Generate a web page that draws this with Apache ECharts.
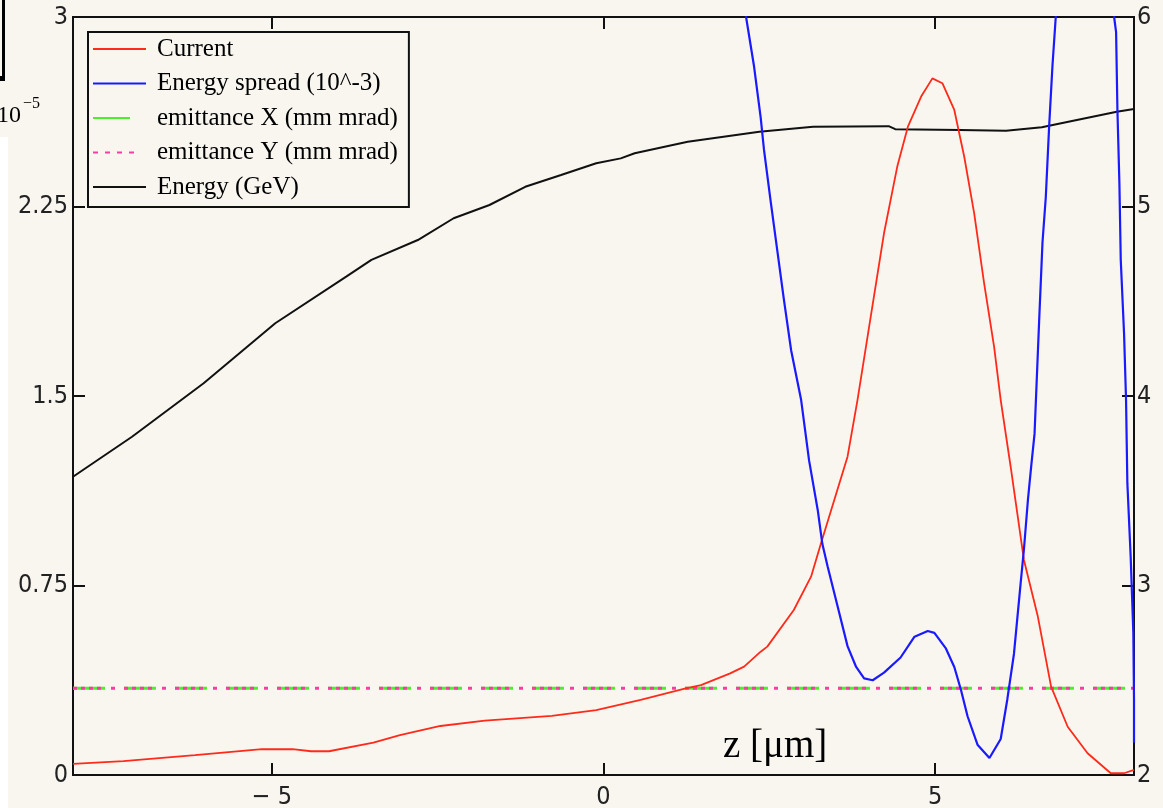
<!DOCTYPE html>
<html><head><meta charset="utf-8">
<script src="https://cdn.jsdelivr.net/npm/echarts@6/dist/echarts.min.js"></script>
<style>html,body{margin:0;padding:0;background:#f9f6f0;} #c{width:1163px;height:808px;}</style>
</head><body><div id="c"></div>
<script>
// ---- data (z in micrometres) ----
const xTicks = [-5, 0, 5];
const leftTicks = [0, 0.75, 1.5, 2.25, 3];
const rightTicks = [2, 3, 4, 5, 6];

const currentZ = [-8.0, -7.24, -6.16, -5.15, -4.69, -4.41, -4.14, -3.47, -3.07, -2.46,
  -1.79, -0.78, -0.11, 0.56, 1.24, 1.47, 1.91, 2.12, 2.37, 2.47,
  2.87, 3.13, 3.28, 3.48, 3.68, 3.83, 4.03, 4.23, 4.43, 4.59,
  4.79, 4.96, 5.11, 5.29, 5.44, 5.59, 5.74, 5.89, 5.99, 6.14,
  6.34, 6.55, 6.75, 7.00, 7.30, 7.65, 7.85, 8.0];
const currentVal = [0.044, 0.055, 0.079, 0.102, 0.102, 0.094, 0.094, 0.128, 0.158, 0.194,
  0.215, 0.234, 0.257, 0.297, 0.343, 0.356, 0.402, 0.429, 0.488, 0.508,
  0.653, 0.785, 0.917, 1.088, 1.260, 1.484, 1.814, 2.144, 2.408, 2.566,
  2.685, 2.757, 2.738, 2.632, 2.447, 2.223, 1.946, 1.695, 1.484, 1.220,
  0.851, 0.627, 0.350, 0.191, 0.086, 0.007, 0.007, 0.020];

const spreadZ = [1.99, 2.15, 2.27, 2.37, 2.42, 2.52, 2.62, 2.72, 2.83, 2.98,
  3.10, 3.23, 3.30, 3.38, 3.53, 3.68, 3.81, 3.93, 4.06, 4.23,
  4.48, 4.69, 4.89, 4.99, 5.16, 5.29, 5.39, 5.49, 5.64, 5.82,
  5.99, 6.09, 6.19, 6.29, 6.34, 6.40, 6.45, 6.50, 6.57, 6.62,
  6.67, 6.72, 6.77, 6.82, 6.90, 7.27, 7.62, 7.70, 7.73, 7.75,
  7.78, 7.80, 7.85, 7.88, 7.90, 7.95, 7.99, 8.0, 8.0];
const spreadVal = [6.32, 6.00, 5.74, 5.47, 5.30, 5.03, 4.77, 4.51, 4.24, 3.98,
  3.66, 3.40, 3.22, 3.10, 2.89, 2.68, 2.57, 2.51, 2.50, 2.54,
  2.62, 2.73, 2.76, 2.75, 2.67, 2.57, 2.45, 2.31, 2.16, 2.09,
  2.19, 2.40, 2.64, 3.01, 3.19, 3.45, 3.63, 3.80, 4.40, 4.81,
  5.05, 5.42, 5.74, 6.00, 6.30, 7.20, 6.30, 6.00, 5.92, 5.51,
  5.12, 4.72, 4.33, 3.98, 3.54, 3.15, 2.75, 2.40, 2.17];

const emitZ = [-8, 8];
const emitXVal = [0.343, 0.343];
const emitYVal = [0.343, 0.343];

const energyZ = [-8.0, -7.11, -6.03, -4.95, -3.88, -3.50, -2.80, -2.26, -1.72, -1.18,
  -0.64, -0.11, 0.26, 0.47, 1.27, 2.35, 3.16, 4.30, 4.40, 5.37,
  6.07, 6.61, 7.74, 8.0];
const energyVal = [3.574, 3.785, 4.067, 4.384, 4.630, 4.718, 4.823, 4.938, 5.008, 5.104,
  5.166, 5.228, 5.254, 5.281, 5.342, 5.395, 5.421, 5.424, 5.408, 5.404,
  5.400, 5.418, 5.500, 5.515];

const seriesNames = ['Current', 'Energy spread (10^-3)', 'emittance X (mm mrad)', 'emittance Y (mm mrad)', 'Energy (GeV)'];

// ---- chart ----
const zip = (a, b) => a.map((v, i) => [v, b[i]]);
const BG = '#f9f6f0';
const tickFont = '"Liberation Sans Narrow", "DejaVu Sans Condensed", "Liberation Sans", sans-serif';
const serif = '"Liberation Serif", "Times New Roman", serif';
const axisLineStyle = { color: '#111', width: 2 };
const tickSize = 25;

function xAxisCfg(pos, showLabel) {
  return {
    type: 'value', min: -8, max: 8, position: pos,
    axisLine: { show: true, onZero: false, lineStyle: axisLineStyle },
    axisTick: { show: true, inside: true, length: 12, customValues: xTicks, lineStyle: axisLineStyle },
    axisLabel: {
      show: showLabel, customValues: xTicks, margin: 10,
      fontFamily: tickFont, fontSize: tickSize, color: '#222',
      formatter: v => v < 0 ? '\u2212 ' + Math.abs(v) : String(v)
    },
    splitLine: { show: false }
  };
}
function yAxisCfg(pos, min, max, interval, ticks, margin) {
  return {
    type: 'value', min: min, max: max, interval: interval, position: pos,
    axisLine: { show: true, onZero: false, lineStyle: axisLineStyle },
    axisTick: { show: true, inside: true, length: 12, lineStyle: axisLineStyle },
    axisLabel: { margin: margin, fontFamily: tickFont, fontSize: tickSize, color: '#222',
      formatter: v => String(v) },
    splitLine: { show: false }
  };
}

const chart = echarts.init(document.getElementById('c'), null, { renderer: 'canvas' });
chart.setOption({
  backgroundColor: BG,
  animation: false,
  title: [
    { text: 'z [μm]', left: 723, top: 727, padding: 0,
      textStyle: { fontFamily: serif, fontSize: 39, fontWeight: 'normal', color: '#000' } },
    { text: '{b|10}{s|\u22125}', left: -3, top: 96, padding: 0,
      textStyle: { fontWeight: 'normal', rich: {
        b: { fontFamily: serif, fontSize: 24, fontWeight: 'normal', color: '#000', lineHeight: 32, verticalAlign: 'bottom' },
        s: { fontFamily: serif, fontSize: 16, fontWeight: 'normal', color: '#000', lineHeight: 32, verticalAlign: 'top', padding: [0, 0, 0, 2] }
      } } }
  ],
  graphic: [
    { type: 'rect', silent: true, shape: { x: 0, y: 137, width: 8, height: 671 }, style: { fill: '#ffffff' } },
    { type: 'line', silent: true, shape: { x1: 3.5, y1: 0, x2: 3.5, y2: 80 }, style: { stroke: '#000', lineWidth: 3 } },
    { type: 'line', silent: true, shape: { x1: 0, y1: 78.5, x2: 5, y2: 78.5 }, style: { stroke: '#000', lineWidth: 5 } }
  ],
  grid: { left: 73, right: 29, top: 17, bottom: 33, show: true, borderColor: '#111', borderWidth: 2,
    backgroundColor: BG, containLabel: false, outerBoundsMode: 'none' },
  legend: {
    show: true, orient: 'vertical', left: 88, top: 32, padding: [3, 11, 6, 4],
    itemGap: 6.5, itemWidth: 53, itemHeight: 14, selectedMode: false,
    borderColor: '#111', borderWidth: 2, backgroundColor: BG,
    itemStyle: { color: 'rgba(0,0,0,0)', borderWidth: 0, opacity: 0 },
    textStyle: { fontFamily: serif, fontSize: 25, color: '#000', lineHeight: 28, padding: [0, 0, 0, 6] },
    data: [
      { name: seriesNames[0] },
      { name: seriesNames[1] },
      { name: seriesNames[2], lineStyle: { type: [37, 40] } },
      { name: seriesNames[3], lineStyle: { type: [5, 7, 5, 7, 5, 7, 5, 20] } },
      { name: seriesNames[4] }
    ]
  },
  xAxis: [xAxisCfg('bottom', true), xAxisCfg('top', false)],
  yAxis: [yAxisCfg('left', 0, 3, 0.75, leftTicks, 5), yAxisCfg('right', 2, 6, 1, rightTicks, 3)],
  series: [
    { name: seriesNames[2], type: 'line', xAxisIndex: 0, yAxisIndex: 0, symbol: 'none', showSymbol: false,
      data: zip(emitZ, emitXVal), color: '#4cf02a', lineStyle: { color: '#4cf02a', width: 3, type: [32, 19] }, z: 2 },
    { name: seriesNames[3], type: 'line', xAxisIndex: 0, yAxisIndex: 0, symbol: 'none', showSymbol: false,
      data: zip(emitZ, emitYVal), color: '#ff3aa0', lineStyle: { color: '#ff3aa0', width: 3, type: [4, 4, 4, 4, 4, 4, 4, 10, 4, 9] }, z: 3 },
    { name: seriesNames[4], type: 'line', xAxisIndex: 0, yAxisIndex: 1, symbol: 'none', showSymbol: false,
      data: zip(energyZ, energyVal), color: '#111', lineStyle: { color: '#111', width: 2 }, z: 4 },
    { name: seriesNames[0], type: 'line', xAxisIndex: 0, yAxisIndex: 0, symbol: 'none', showSymbol: false,
      data: zip(currentZ, currentVal), color: '#ff2a1a', lineStyle: { color: '#ff2a1a', width: 1.8 }, z: 5 },
    { name: seriesNames[1], type: 'line', xAxisIndex: 0, yAxisIndex: 1, symbol: 'none', showSymbol: false, clip: true,
      data: zip(spreadZ, spreadVal), color: '#1a1aff', lineStyle: { color: '#1a1aff', width: 2.2 }, z: 6 }
  ]
});
</script></body></html>
